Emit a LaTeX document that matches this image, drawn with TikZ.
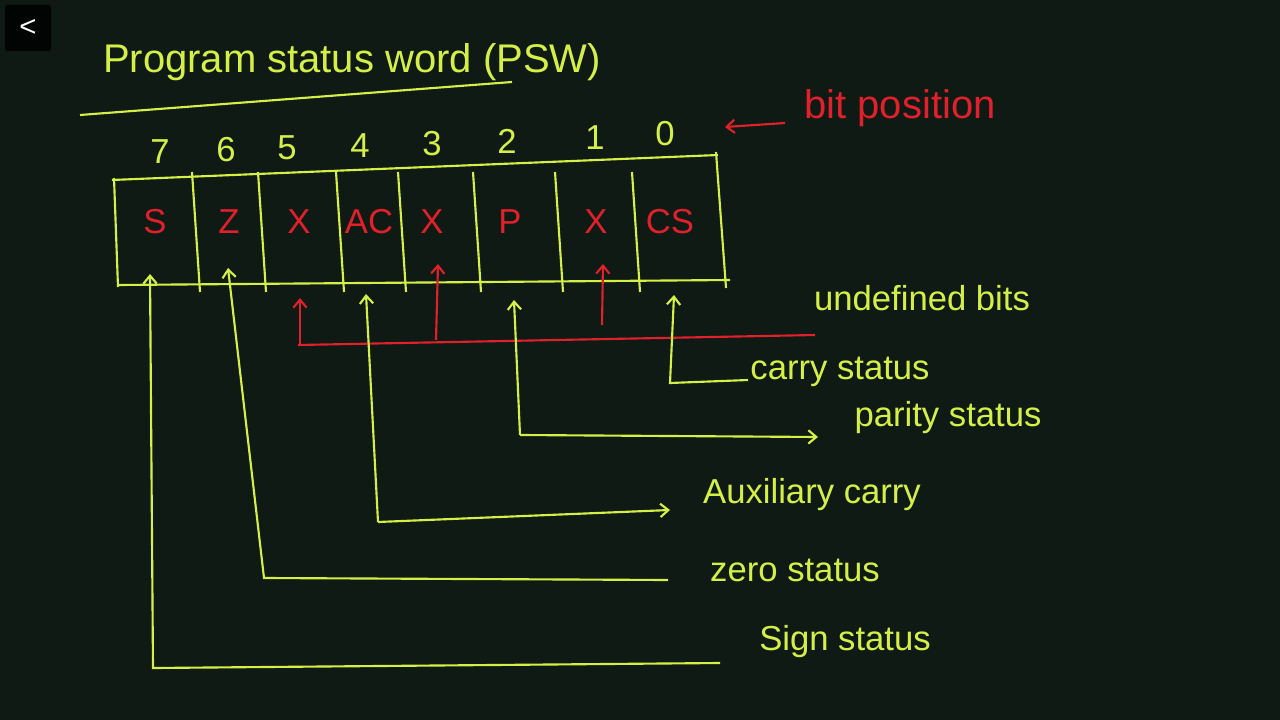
\documentclass[tikz,border=0pt]{standalone}
\usepackage{fontspec}
\setmainfont{Liberation Sans}
\usetikzlibrary{arrows.meta}
\definecolor{bg}{HTML}{0F1A14}
\definecolor{yg}{HTML}{D4F046}
\definecolor{rd}{HTML}{E0202A}
\tikzset{yl/.style={draw=yg,line width=1.6pt},rl/.style={draw=rd,line width=1.6pt},
 arr/.style={-{Straight Barb[length=6pt,width=10pt]}},
 yt/.style={text=yg,font=\fontsize{26}{28}\selectfont},
 rt/.style={text=rd,font=\fontsize{26}{28}\selectfont}}
\begin{document}
\begin{tikzpicture}[x=0.75pt,y=-0.75pt]
\fill[bg] (0,0) rectangle (1280,720);
\useasboundingbox (0,0) rectangle (1280,720);
\fill[black!85!bg,rounded corners=2pt] (5,5) rectangle (51,51);
\node[text=white,font=\fontsize{22}{22}\selectfont] (back) at (28,28) {<};
% title
\node[yt,font=\fontsize{30}{32}\selectfont] (title) at (352,62) {Program status word (PSW)};
\draw[yl] (80,115) -- (512,82);
\node[rt,font=\fontsize{30}{32}\selectfont] (bp) at (900,108) {bit position};
\draw[rl,arr] (785,123) -- (725,127);
% bit numbers
\foreach \x/\n/\y in {160/7/152,226/6/150,287/5/148,360/4/146,432/3/144,507/2/141,595/1/138,665/0/134}
  \node[yt] (n\n) at (\x,\y) {\n};
% box
\draw[yl] (112,180) -- (718,155);
\draw[yl] (118,285) -- (730,280);
\draw[yl] (114,178) -- (118,287);
\draw[yl] (716,152) -- (726,288);
\foreach \x in {192,258,336,398,473,555,632}
  \draw[yl] (\x,172) -- (\x+8,292);
\foreach \x/\t/\k in {155/S/s,229/Z/z,299/X/x1,369/AC/ac,432/X/x2,510/P/p,596/X/x3,670/CS/cs}
  \node[rt] (\k) at (\x,222) {\t};
% red undefined
\draw[rl] (298,345) -- (815,335);
\draw[rl,arr] (300,345) -- (300,298);
\draw[rl,arr] (436,340) -- (438,264);
\draw[rl,arr] (602,325) -- (603,264);
\node[yt] (und) at (922,298) {undefined bits};
% yellow arrows
\draw[yl,arr] (720,663) -- (153,668) -- (150,274);
\node[yt] (sign) at (845,642) {Sign status};
\draw[yl,arr] (668,580) -- (264,578) -- (228,268);
\node[yt] (zero) at (795,570) {zero status};
\draw[yl,arr] (378,522) -- (670,510);
\draw[yl,arr] (378,522) -- (366,294);
\node[yt] (aux) at (812,495) {Auxiliary carry};
\draw[yl,arr] (520,435) -- (514,300);
\draw[yl,arr] (520,435) -- (818,437);
\node[yt] (par) at (948,418) {parity status};
\draw[yl,arr] (748,380) -- (670,383) -- (674,295);
\node[yt] (car) at (840,372) {carry status};
\end{tikzpicture}
\end{document}
